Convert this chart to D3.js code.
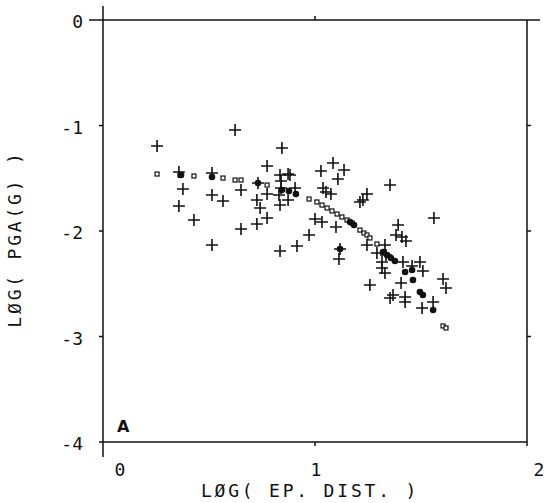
<!DOCTYPE html>
<html>
<head>
<meta charset="utf-8">
<script src="https://cdn.jsdelivr.net/npm/d3@7/dist/d3.min.js"></script>
<style>
  body { margin: 0; background: #fff; }
  svg { display: block; }
  .lbl { font-family: 'DejaVu Sans Mono', monospace; font-size: 18px; fill: #111; }
</style>
</head>
<body>
<div id="chart"></div>
<script>
// log(epicentral distance) vs log(PGA in g)
const xTicks = [0, 1, 2];
const yTicks = [0, -1, -2, -3, -4];

// observed records (plus signs)
const observed = [
  [0.255, -1.194], [0.623, -1.043], [0.844, -1.213], [0.358, -1.441], [0.514, -1.450],
  [0.377, -1.602], [0.514, -1.659], [0.358, -1.763], [0.429, -1.896], [0.514, -2.133],
  [0.651, -1.611], [0.566, -1.716], [0.651, -1.981], [0.774, -1.384], [0.731, -1.545],
  [0.774, -1.649], [0.726, -1.706], [0.741, -1.782], [0.774, -1.877], [0.726, -1.934],
  [0.835, -1.469], [0.873, -1.460], [0.840, -1.526], [0.840, -1.592], [0.830, -1.659],
  [0.873, -1.706], [0.835, -1.754], [0.906, -1.592], [0.882, -1.469], [0.972, -2.038],
  [0.915, -2.142], [0.835, -2.190], [1.028, -1.431], [1.085, -1.355], [1.137, -1.422],
  [1.108, -1.507], [1.038, -1.592], [1.052, -1.630], [1.075, -1.649], [1.000, -1.886],
  [1.033, -1.915], [1.099, -1.962], [1.354, -1.564], [1.245, -1.649], [1.226, -1.706],
  [1.212, -1.725], [1.392, -1.943], [1.382, -2.038], [1.410, -2.057], [1.429, -2.095],
  [1.245, -2.133], [1.118, -2.171], [1.113, -2.265], [1.292, -2.209], [1.330, -2.133],
  [1.335, -2.227], [1.316, -2.294], [1.316, -2.351], [1.330, -2.398], [1.415, -2.294],
  [1.458, -2.332], [1.495, -2.294], [1.509, -2.379], [1.561, -1.877], [1.604, -2.455],
  [1.618, -2.540], [1.406, -2.493], [1.259, -2.512], [1.425, -2.626], [1.425, -2.673],
  [1.354, -2.635], [1.368, -2.607], [1.505, -2.730], [1.557, -2.673]
];

// predicted values (open squares)
const predicted = [
  [0.255, -1.460], [0.363, -1.469], [0.429, -1.479], [0.566, -1.498], [0.623, -1.517],
  [0.651, -1.517], [0.774, -1.564], [0.972, -1.697], [1.009, -1.725], [1.033, -1.754],
  [1.057, -1.782], [1.080, -1.810], [1.104, -1.839], [1.127, -1.867], [1.151, -1.896],
  [1.175, -1.924], [1.212, -1.991], [1.231, -2.019], [1.245, -2.038], [1.259, -2.066],
  [1.292, -2.123], [1.604, -2.900], [1.618, -2.919]
];

// predicted values at coincident stations (filled dots)
const coincident = [
  [0.368, -1.469], [0.514, -1.488], [0.731, -1.545], [0.844, -1.611], [0.877, -1.621],
  [0.910, -1.649], [1.165, -1.915], [1.184, -1.943], [1.118, -2.171], [1.321, -2.199],
  [1.340, -2.227], [1.358, -2.256], [1.377, -2.284], [1.425, -2.389], [1.458, -2.370],
  [1.462, -2.464], [1.495, -2.578], [1.509, -2.607], [1.557, -2.749]
];

const width = 550;
const height = 503;
const ink = '#111';

const svg = d3.select('#chart').append('svg')
  .attr('width', width)
  .attr('height', height);

const x = d3.scaleLinear().domain([0, 2]).range([103, 527]);
const y = d3.scaleLinear().domain([-4, 0]).range([442, 20]);

// frame
const frame = svg.append('g')
  .attr('stroke', ink)
  .attr('stroke-width', 1.5)
  .attr('fill', 'none');
frame.append('line').attr('x1', x(0)).attr('x2', x(0)).attr('y1', y(0) - 14).attr('y2', y(-4) + 15);
frame.append('line').attr('x1', x(2)).attr('x2', x(2)).attr('y1', y(0)).attr('y2', y(-4) + 4);
frame.append('line').attr('x1', x(0) - 14).attr('x2', x(2) + 13).attr('y1', y(0)).attr('y2', y(0));
frame.append('line').attr('x1', x(0) - 4).attr('x2', x(2)).attr('y1', y(-4)).attr('y2', y(-4));

// small tick marks
yTicks.slice(1, 4).forEach((t) => {
  frame.append('line').attr('x1', x(0) - 4).attr('x2', x(0)).attr('y1', y(t)).attr('y2', y(t));
  frame.append('line').attr('x1', x(2)).attr('x2', x(2) + 4).attr('y1', y(t)).attr('y2', y(t));
});
frame.append('line').attr('x1', x(1)).attr('x2', x(1)).attr('y1', y(0) - 4).attr('y2', y(0));
frame.append('line').attr('x1', x(1)).attr('x2', x(1)).attr('y1', y(-4)).attr('y2', y(-4) + 4);

// tick labels
svg.append('g').selectAll('text')
  .data(yTicks)
  .enter()
  .append('text')
    .attr('class', 'lbl')
    .attr('text-anchor', 'end')
    .attr('x', x(0) - 20)
    .attr('y', d => y(d) + 8)
    .text(d => (d < 0 ? `-${-d}` : d));

const xShift = [17, 1, 12];
svg.append('g').selectAll('text')
  .data(xTicks)
  .enter()
  .append('text')
    .attr('class', 'lbl')
    .attr('text-anchor', 'middle')
    .attr('x', (d, i) => x(d) + xShift[i])
    .attr('y', 476)
    .text(d => d);

// axis titles
svg.append('text')
  .attr('class', 'lbl')
  .attr('text-anchor', 'middle')
  .attr('letter-spacing', 2.8)
  .attr('x', 310)
  .attr('y', 497)
  .text('LØG( EP. DIST. )');

svg.append('text')
  .attr('class', 'lbl')
  .attr('text-anchor', 'middle')
  .attr('letter-spacing', 2.8)
  .attr('transform', 'translate(21,239) rotate(-90)')
  .text('LØG( PGA(G) )');

svg.append('text')
  .attr('x', 117)
  .attr('y', 432)
  .attr('font-family', 'DejaVu Sans, sans-serif')
  .attr('font-size', 16)
  .attr('font-weight', 'bold')
  .attr('fill', ink)
  .text('A');

// marks
const plot = svg.append('g');

plot.selectAll('.obs')
  .data(observed)
  .enter()
  .append('path')
    .attr('class', 'obs')
    .attr('d', d => `M${x(d[0]) - 6},${y(d[1])}h12M${x(d[0])},${y(d[1]) - 6}v12`)
    .attr('stroke', ink)
    .attr('stroke-width', 1.6)
    .attr('fill', 'none');

plot.selectAll('.pred')
  .data(predicted)
  .enter()
  .append('rect')
    .attr('class', 'pred')
    .attr('x', d => x(d[0]) - 2)
    .attr('y', d => y(d[1]) - 2)
    .attr('width', 4)
    .attr('height', 4)
    .attr('stroke', ink)
    .attr('stroke-width', 1.2)
    .attr('fill', '#fff');

plot.selectAll('.coin')
  .data(coincident)
  .enter()
  .append('circle')
    .attr('class', 'coin')
    .attr('cx', d => x(d[0]))
    .attr('cy', d => y(d[1]))
    .attr('r', 3.3)
    .attr('fill', ink);
</script>
</body>
</html>
